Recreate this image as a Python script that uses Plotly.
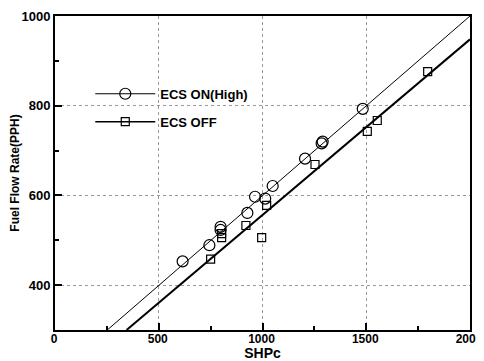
import plotly.graph_objects as go

# ECS ON (High) data
on_x = [615, 744, 798, 798, 927, 964, 1013, 1049, 1205, 1285, 1290, 1483]
on_y = [453, 489, 530, 523, 561, 597, 593, 621, 682, 716, 720, 793]
# ECS OFF data
off_x = [750, 803, 803, 920, 996, 1020, 1253, 1505, 1553, 1796]
off_y = [458, 515, 506, 533, 506, 578, 669, 743, 767, 876]
# fitted lines (endpoints)
on_fit_x = [252, 2000]
on_fit_y = [300, 1000]
off_fit_x = [345, 2000]
off_fit_y = [300, 948]

x_ticks = [0, 500, 1000, 1500, 2000]
y_ticks = [400, 600, 800, 1000]

font = "Liberation Sans, Arial, sans-serif"

fig = go.Figure()
fig.add_trace(go.Scatter(x=on_fit_x, y=on_fit_y, mode="lines", legendgroup="on",
                         line=dict(color="black", width=1), showlegend=False))
fig.add_trace(go.Scatter(x=off_fit_x, y=off_fit_y, mode="lines", legendgroup="off",
                         line=dict(color="black", width=2), showlegend=False))
fig.add_trace(go.Scatter(x=on_x, y=on_y, mode="markers", name="ECS ON(High)", legendgroup="on",
                         showlegend=False,
                         marker=dict(symbol="circle-open", size=11, color="black",
                                     line=dict(width=1.2, color="black"))))
fig.add_trace(go.Scatter(x=off_x, y=off_y, mode="markers", name="ECS OFF", legendgroup="off",
                         showlegend=False,
                         marker=dict(symbol="square-open", size=8, color="black",
                                     line=dict(width=1.2, color="black"))))
# legend entries (line + marker samples)
fig.add_trace(go.Scatter(x=[None], y=[None], mode="lines+markers", name="ECS ON(High)",
                         legendgroup="on",
                         line=dict(color="black", width=1),
                         marker=dict(symbol="circle-open", size=11, color="black",
                                     line=dict(width=1.2, color="black"))))
fig.add_trace(go.Scatter(x=[None], y=[None], mode="lines+markers", name="ECS OFF",
                         legendgroup="off",
                         line=dict(color="black", width=1.5),
                         marker=dict(symbol="square-open", size=8, color="black",
                                     line=dict(width=1.2, color="black"))))

axis_common = dict(
    showline=True, linecolor="black", linewidth=2, mirror=True,
    ticks="inside", ticklen=7, tickwidth=2, tickcolor="black",
    showgrid=True, gridcolor="#999999", gridwidth=1, griddash="dot",
    zeroline=False, automargin=False, ticklabeloverflow="allow",
)

fig.update_xaxes(range=[0, 2000], tickvals=x_ticks,
                 tickfont=dict(family=font, size=12, color="black", weight="bold"),
                 ticklabelshift=-1, ticklabelstandoff=-3,
                 minor=dict(dtick=250, ticks="inside", ticklen=4, tickcolor="black", showgrid=False),
                 title=dict(text="SHPc", font=dict(family=font, size=14, color="black", weight="bold"),
                            standoff=3),
                 **axis_common)
fig.update_yaxes(range=[300, 1000], tickvals=y_ticks,
                 tickfont=dict(family=font, size=13, color="black", weight="bold"),
                 minor=dict(dtick=100, ticks="inside", ticklen=4, tickcolor="black", showgrid=False),
                 title=dict(text="Fuel Flow Rate(PPH)", font=dict(family=font, size=12, color="black", weight="bold"),
                            standoff=7),
                 **axis_common)

fig.update_layout(
    width=484, height=353,
    margin=dict(l=47, r=22, t=8, b=31),
    paper_bgcolor="white", plot_bgcolor="white",
    showlegend=True,
    legend=dict(x=0.085, y=0.80, xanchor="left", yanchor="top",
                bgcolor="rgba(0,0,0,0)", tracegroupgap=8,
                font=dict(family=font, size=13, color="black", weight="bold"),
                itemwidth=60),
)

fig.write_html("out.html")
